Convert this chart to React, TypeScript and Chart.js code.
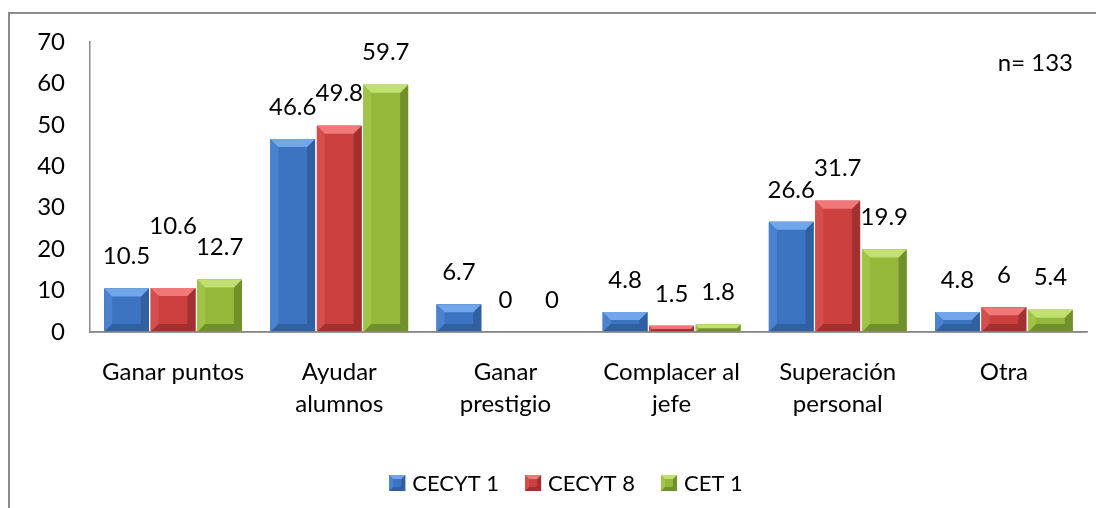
import React, { useEffect, useRef } from "react";
import { Chart, registerables } from "chart.js";

Chart.register(...registerables);

const categories: (string | string[])[] = [
  "Ganar puntos",
  ["Ayudar", "alumnos"],
  ["Ganar", "prestigio"],
  ["Complacer al", "jefe"],
  ["Superación", "personal"],
  "Otra",
];
const seriesNames = ["CECYT 1", "CECYT 8", "CET 1"];
const cecyt1 = [10.5, 46.6, 6.7, 4.8, 26.6, 4.8];
const cecyt8 = [10.6, 49.8, 0, 1.5, 31.7, 6];
const cet1 = [12.7, 59.7, 0, 1.8, 19.9, 5.4];
const yTicks = [0, 10, 20, 30, 40, 50, 60, 70];
const sampleNote = "n= 133";

const FONT = "Lato, 'Open Sans', sans-serif";

const palettes = [
  { base: "#3d74c2", light: "#72a6ea", side: "#4a82cf", dark: "#30609f" },
  { base: "#cc3f3f", light: "#f07878", side: "#d44e4e", dark: "#a33030" },
  { base: "#93b83a", light: "#c2df72", side: "#9fc448", dark: "#718f2a" },
];

function bevelRect(ctx: CanvasRenderingContext2D, l: number, t: number, r: number, bot: number, bsz: number, p: typeof palettes[0]) {
  const w = r - l;
  const h = bot - t;
  if (h < 0.5 || w < 0.5) return;
  const b = Math.max(0, Math.min(bsz, h / 2, w / 2));
  ctx.save();
  ctx.fillStyle = p.base;
  ctx.fillRect(l, t, w, h);
  const poly = (pts: number[][], c: string) => {
    ctx.beginPath();
    ctx.moveTo(pts[0][0], pts[0][1]);
    for (let i = 1; i < pts.length; i++) ctx.lineTo(pts[i][0], pts[i][1]);
    ctx.closePath();
    ctx.fillStyle = c;
    ctx.fill();
  };
  poly([[l, t], [l + b, t + b], [l + b, bot - b], [l, bot]], p.side);
  poly([[r, t], [r - b, t + b], [r - b, bot - b], [r, bot]], p.dark);
  poly([[l, bot], [l + b, bot - b], [r - b, bot - b], [r, bot]], p.dark);
  poly([[l, t], [r, t], [r - b, t + b], [l + b, t + b]], p.light);
  ctx.restore();
}

const bevelPlugin = {
  id: "bevelBars",
  afterDatasetsDraw(chart: any) {
    const ctx = chart.ctx;
    chart.data.datasets.forEach((ds: any, di: number) => {
      const meta = chart.getDatasetMeta(di);
      meta.data.forEach((el: any) => {
        const { x, y, base, width } = el.getProps(["x", "y", "base", "width"], true);
        const l = x - width / 2;
        const r = x + width / 2;
        const t = Math.min(y, base);
        const bot = Math.max(y, base);
        bevelRect(ctx, l, t, r, bot, 8, palettes[di]);
      });
    });
    const xs = chart.scales.x;
    ctx.save();
    ctx.strokeStyle = "#8a8a8a";
    ctx.lineWidth = 1.5;
    ctx.beginPath();
    ctx.moveTo(chart.chartArea.left, xs.top);
    ctx.lineTo(chart.chartArea.right, xs.top);
    ctx.stroke();
    ctx.restore();
  },
  afterDraw(chart: any) {
    const ctx = chart.ctx;
    ctx.save();
    ctx.font = `24px ${FONT}`;
    ctx.fillStyle = "#000";
    ctx.textAlign = "center";
    ctx.textBaseline = "middle";
    const lh = 28;
    const nCat = chart.data.labels.length;
    for (let i = 0; i < nCat; i++) {
      const placed: { x: number; y: number; w: number }[] = [];
      chart.data.datasets.forEach((ds: any, di: number) => {
        const el = chart.getDatasetMeta(di).data[i];
        const { x, y } = el.getProps(["x", "y"], true);
        const text = String(ds.data[i]);
        const w = ctx.measureText(text).width;
        let ly = y - 32;
        for (const p of placed) {
          const hOver = Math.abs(p.x - x) < (p.w + w) / 2 + 1;
          const vOver = Math.abs(p.y - ly) < 8;
          if (hOver && vOver) ly = p.y - lh - 2;
        }
        placed.push({ x, y: ly, w });
        ctx.fillText(text, x, ly);
      });
    }
    ctx.textAlign = "right";
    ctx.fillText(sampleNote, chart.chartArea.right - 14, chart.chartArea.top + 21);
    // legend
    ctx.font = `22px ${FONT}`;
    const boxSize = 16;
    const gapBoxText = 7;
    const gapItems = 26;
    ctx.textAlign = "left";
    const widths = chart.data.datasets.map((d: any) => boxSize + gapBoxText + ctx.measureText(d.label).width);
    const total = widths.reduce((a: number, b: number) => a + b, 0) + gapItems * (widths.length - 1);
    let cx = chart.width / 2 + 9 - total / 2;
    const cy = chart.height - 25;
    chart.data.datasets.forEach((d: any, di: number) => {
      bevelRect(ctx, cx, cy - boxSize / 2, cx + boxSize, cy + boxSize / 2, 4, palettes[di]);
      ctx.fillStyle = "#000";
      ctx.fillText(d.label, cx + boxSize + gapBoxText, cy + 1);
      cx += widths[di] + gapItems;
    });
    ctx.restore();
  },
};

function ChartView() {
  const ref = useRef<HTMLCanvasElement | null>(null);
  useEffect(() => {
    let chart: Chart | null = null;
    let cancelled = false;
    const make = () => {
      if (cancelled || !ref.current) return;
      chart = new Chart(ref.current, {
        type: "bar",
        data: {
          labels: categories,
          datasets: [cecyt1, cecyt8, cet1].map((d, i) => ({
            label: seriesNames[i],
            data: d,
            backgroundColor: palettes[i].base,
            borderWidth: 0,
            barPercentage: 0.96,
            categoryPercentage: 0.84,
          })),
        },
        options: {
          responsive: false,
          animation: false,
          layout: { padding: { left: 0, right: 17, top: 28, bottom: 0 } },
          plugins: {
            legend: { display: false },
            tooltip: { enabled: false },
            title: { display: false },
          },
          scales: {
            x: {
              grid: { display: false, drawTicks: false },
              border: { display: true, color: "#8a8a8a", width: 1.5 },
              ticks: {
                color: "#000",
                font: { family: FONT, size: 24, lineHeight: 1.35 },
                padding: 24,
                maxRotation: 0,
                autoSkip: false,
              },
              afterFit: (s: any) => {
                s.height = 176;
                s.paddingLeft = 0;
                s.paddingRight = 0;
              },
            },
            y: {
              min: 0,
              max: 70,
              afterBuildTicks: (s: any) => {
                s.ticks = yTicks.map((v) => ({ value: v }));
              },
              grid: { display: false, drawTicks: false },
              border: { display: true, color: "#8a8a8a", width: 1.5 },
              ticks: {
                color: "#000",
                font: { family: FONT, size: 24 },
                padding: 25,
              },
              afterFit: (s: any) => {
                s.width = 80;
                s.paddingTop = 0;
                s.paddingBottom = 0;
              },
            },
          },
        },
        plugins: [bevelPlugin],
      });
    };
    const fonts: any = (document as any).fonts;
    if (fonts && fonts.load) {
      fonts.load(`24px Lato`).then(make, make);
    } else make();
    return () => {
      cancelled = true;
      if (chart) chart.destroy();
    };
  }, []);
  return <canvas ref={ref} width={1094} height={494} style={{ display: "block", width: 1094, height: 494 }} />;
}

export default function App() {
  return (
    <div
      style={{
        marginTop: 4,
        width: 1096,
        height: 496,
        boxSizing: "border-box",
        borderLeft: "2px solid #8c8c8c",
        borderTop: "2px solid #8c8c8c",
        background: "#fff",
        overflow: "hidden",
      }}
    >
      <ChartView />
    </div>
  );
}
